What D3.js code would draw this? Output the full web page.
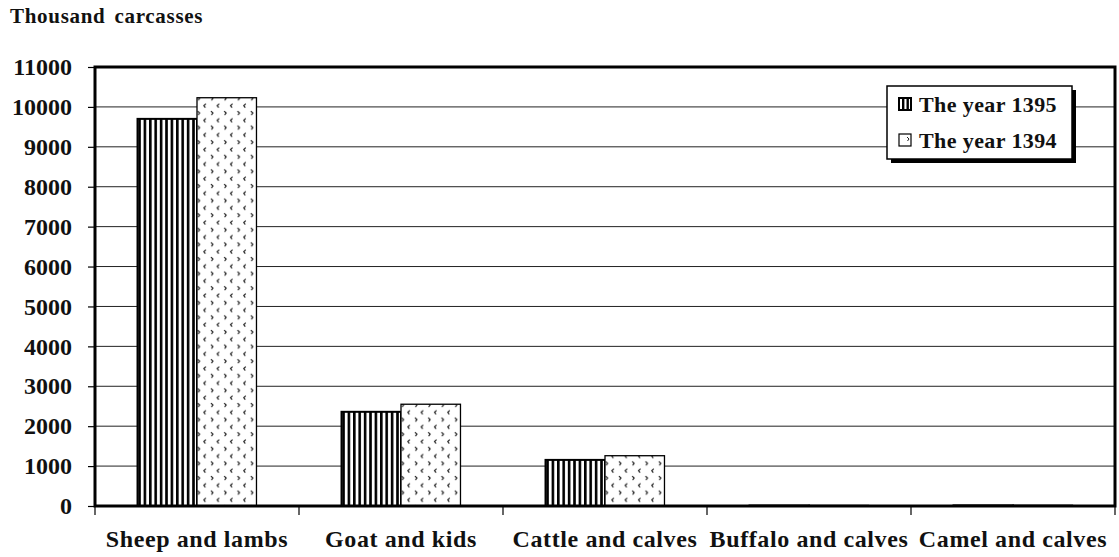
<!DOCTYPE html>
<html>
<head>
<meta charset="utf-8">
<script src="https://cdn.jsdelivr.net/npm/d3@7"></script>
<style>
  html, body { margin: 0; padding: 0; background: #fff; }
  svg text { font-family: "Liberation Serif", "Times New Roman", serif; font-weight: bold; fill: #111; }
</style>
</head>
<body>
<svg id="chart" width="1119" height="557"></svg>
<script>
const categories = ["Sheep and lambs", "Goat and kids", "Cattle and calves", "Buffalo and calves", "Camel and calves"];
const seriesNames = ["The year 1395", "The year 1394"];
const values1395 = [9700, 2360, 1155, 12, 15];
const values1394 = [10230, 2550, 1260, 14, 18];
const yTicks = [0, 1000, 2000, 3000, 4000, 5000, 6000, 7000, 8000, 9000, 10000, 11000];
const yTitle = "Thousand carcasses";

const svg = d3.select("#chart");
const L = 95, R = 1115, T = 67, B = 506;

const rows = categories.map((c, i) => ({ cat: c, vals: [values1395[i], values1394[i]] }));

const x0 = d3.scaleBand().domain(categories).range([L, R]).padding(0);
const x1 = d3.scaleBand().domain(seriesNames).range([0, x0.bandwidth()]).paddingInner(0).paddingOuter(0.715);
const y = d3.scaleLinear().domain([0, 11000]).range([B, T]);

// patterns
const defs = svg.append("defs");
const pStripe = defs.append("pattern").attr("id", "stripes").attr("patternUnits", "userSpaceOnUse")
  .attr("width", 5.4).attr("height", 10);
pStripe.append("rect").attr("width", 5.4).attr("height", 10).attr("fill", "#fff");
pStripe.append("rect").attr("x", 0).attr("width", 2.6).attr("height", 10).attr("fill", "#000");

const pDots = defs.append("pattern").attr("id", "chevrons").attr("patternUnits", "userSpaceOnUse")
  .attr("width", 13.3).attr("height", 14.6);
pDots.append("rect").attr("width", 13.3).attr("height", 14.6).attr("fill", "#fff");
pDots.append("path").attr("d", "M4.5,1.5 L2.5,3.5 L4,5.5").attr("fill", "none").attr("stroke", "#111").attr("stroke-width", 1.1);
pDots.append("path").attr("d", "M9.5,8.8 L11.5,10.8 L10,12.8").attr("fill", "none").attr("stroke", "#111").attr("stroke-width", 1.1);

const fills = ["url(#stripes)", "url(#chevrons)"];

// title
svg.append("text").attr("x", 10).attr("y", 23).attr("font-size", 21)
  .attr("letter-spacing", 0.7).attr("word-spacing", 3).text(yTitle);

// gridlines
svg.append("g").selectAll("line").data(yTicks.filter(t => t > 0 && t < 11000)).join("line")
  .attr("x1", L).attr("x2", R).attr("y1", d => y(d)).attr("y2", d => y(d))
  .attr("stroke", "#222").attr("stroke-width", 1);

// bars
const groups = svg.append("g").selectAll("g").data(rows).join("g")
  .attr("transform", d => `translate(${x0(d.cat)},0)`);
groups.selectAll("rect").data(d => d.vals.map((v, i) => ({ s: seriesNames[i], v, i }))).join("rect")
  .attr("x", d => x1(d.s))
  .attr("y", d => y(d.v))
  .attr("width", x1.bandwidth())
  .attr("height", d => B - y(d.v))
  .attr("fill", d => fills[d.i])
  .attr("stroke", "#000")
  .attr("stroke-width", d => d.i === 0 ? 2 : 1.3);

// frame
svg.append("rect").attr("x", L).attr("y", T).attr("width", R - L).attr("height", B - T)
  .attr("fill", "none").attr("stroke", "#000").attr("stroke-width", 3);

// y axis
const yAxis = d3.axisLeft(y).tickValues(yTicks).tickSize(7).tickPadding(16).tickFormat(d3.format("d"));
const yg = svg.append("g").attr("transform", `translate(${L},0)`).call(yAxis);
yg.select(".domain").remove();
yg.selectAll(".tick line").attr("stroke", "#000").attr("stroke-width", 1.2);
yg.selectAll(".tick text").attr("font-size", 24).attr("font-family", "Liberation Serif, Times New Roman, serif")
  .attr("font-weight", "bold").attr("fill", "#111");

// x axis ticks at band boundaries
const bounds = categories.map(c => x0(c)).concat([x0(categories[categories.length - 1]) + x0.bandwidth()]);
svg.append("g").selectAll("line").data(bounds).join("line")
  .attr("x1", d => d).attr("x2", d => d).attr("y1", B).attr("y2", B + 9)
  .attr("stroke", "#000").attr("stroke-width", 1.2);
svg.append("g").selectAll("text").data(categories).join("text")
  .attr("x", d => x0(d) + x0.bandwidth() / 2)
  .attr("y", 547)
  .attr("text-anchor", "middle")
  .attr("font-size", 24)
  .attr("letter-spacing", 0.6)
  .text(d => d);

// legend
const lg = svg.append("g");
lg.append("rect").attr("x", 891).attr("y", 90).attr("width", 185).attr("height", 73).attr("fill", "#000");
lg.append("rect").attr("x", 887).attr("y", 86).attr("width", 185).attr("height", 73)
  .attr("fill", "#fff").attr("stroke", "#000").attr("stroke-width", 1.5);
seriesNames.forEach((s, i) => {
  const yy = i === 0 ? 98 : 134;
  lg.append("rect").attr("x", 899).attr("y", yy).attr("width", 12).attr("height", 12)
    .attr("fill", "#fff").attr("stroke", "#000").attr("stroke-width", i === 0 ? 2 : 1.2);
  if (i === 0) {
    lg.append("rect").attr("x", 902).attr("y", yy).attr("width", 2.4).attr("height", 12).attr("fill", "#000");
    lg.append("rect").attr("x", 906.5).attr("y", yy).attr("width", 2.4).attr("height", 12).attr("fill", "#000");
  } else {
    lg.append("path").attr("d", `M${907},${yy + 3} L${909},${yy + 5} L${907.5},${yy + 7}`).attr("fill", "none").attr("stroke", "#222");
  }
  lg.append("text").attr("x", 919).attr("y", yy + 14).attr("font-size", 22).attr("letter-spacing", 0.4).text(s);
});
</script>
</body>
</html>
